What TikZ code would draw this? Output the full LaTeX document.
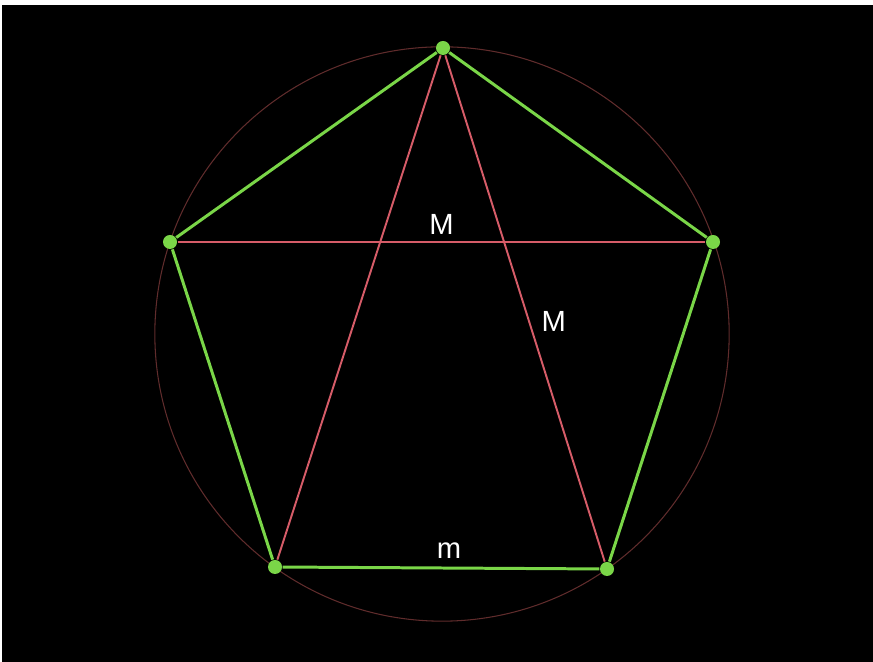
\documentclass[tikz,border=0pt]{standalone}
\usepackage{fontspec}
\setmainfont{Liberation Sans}
\definecolor{sidegreen}{RGB}{122,214,72}
\definecolor{diagred}{RGB}{214,92,104}
\definecolor{circred}{RGB}{96,44,44}

\begin{document}
\begin{tikzpicture}[
        x=0.01cm, y=-0.01cm,
        vertex/.style={circle, fill=sidegreen, inner sep=0pt, minimum size=0.14cm},
        side/.style={draw=sidegreen, line width=0.85pt},
        diag/.style={draw=diagred, line width=0.55pt},
        every node/.style={font=\fontsize{8.3}{10}\selectfont, text=white}
    ]
    \fill[white] (0,0) rectangle (873,662);
    \fill[black] (2,5) rectangle (873,662);
    \useasboundingbox (0,0) rectangle (873,662);

    \node[circle, draw=circred, line width=0.3pt, minimum size=5.74cm, inner sep=0pt] (circ) at (442,334) {};

    \node[vertex] (top) at (443,48) {};
    \node[vertex] (left) at (170,242) {};
    \node[vertex] (right) at (713,242) {};
    \node[vertex] (botleft) at (275,567) {};
    \node[vertex] (botright) at (607,569) {};

    \draw[diag] (left) -- node[above=-1.5pt, pos=0.5] {M} (right);
    \draw[diag] (top) -- (botleft);
    \draw[diag] (top) -- node[right=0pt, pos=0.525] {M} (botright);

    \draw[side] (top) -- (right) -- (botright)
        -- node[above=-1pt, pos=0.475] {m} (botleft) -- (left) -- (top);
\end{tikzpicture}
\end{document}
